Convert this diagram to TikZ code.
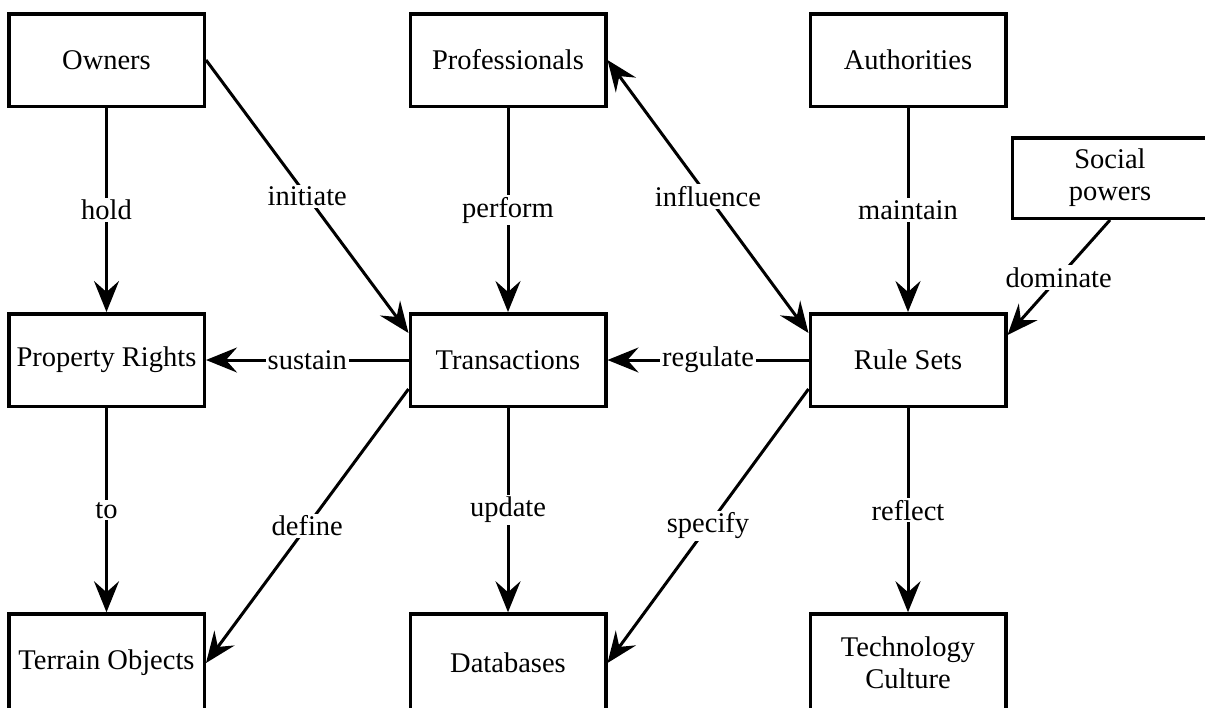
\documentclass[tikz,border=0pt]{standalone}
\usepackage{fontspec}
\setmainfont{Liberation Serif}
\usetikzlibrary{arrows.meta}
\begin{document}
\begin{tikzpicture}[x=1pt,y=-1pt,
  box/.style={draw, line width=3.5pt, minimum width=195.5pt, minimum height=92.5pt,
    inner sep=0pt, align=center, font=\fontsize{28.5}{32}\selectfont},
  tipa/.tip={Stealth[length=31pt,width=25pt,inset=11pt]},
  conn/.style={line width=3pt, -tipa},
  both/.style={line width=3pt, tipa-tipa},
  lab/.style={fill=white, inner sep=2pt, font=\fontsize{28.5}{32}\selectfont}]
\useasboundingbox (0,0) rectangle (1205,707);
\clip (0,0) rectangle (1205,707);
% nodes
\node[box] (own) at (106.5,60) {Owners};
\node[box] (prof) at (508,60) {Professionals};
\node[box] (auth) at (908,60) {Authorities};
\node[box, minimum height=80.5pt] (soc) at (1110,178) {Social\\powers};
\node[box] (pr) at (106.5,360) {Property Rights};
\node[box] (tr) at (508,360) {Transactions};
\node[box] (rs) at (908,360) {Rule Sets};
\node[box, minimum height=98pt] (ter) at (106.5,663) {Terrain Objects};
\node[box, minimum height=98pt] (db) at (508,663) {Databases};
\node[box, minimum height=98pt] (tc) at (908,663) {Technology\\Culture};
% connectors
\draw[conn] (own) -- node[lab] {hold} (pr);
\draw[conn] (own.east) -- node[lab] {initiate} ([yshift=27pt]tr.west);
\draw[conn] (prof) -- node[lab] {perform} (tr);
\draw[both] (prof.east) -- node[lab] {influence} ([yshift=27pt]rs.west);
\draw[conn] (auth) -- node[lab] {maintain} (rs);
\draw[conn] (soc.south) -- node[lab] {dominate} ([yshift=25pt]rs.east);
\draw[conn] (tr.west) -- node[lab] {sustain} (pr.east);
\draw[conn] (rs.west) -- node[lab] {regulate} (tr.east);
\draw[conn] (pr) -- node[lab] {to} (ter);
\draw[conn] ([yshift=-29pt]tr.west) -- node[lab] {define} (ter.east);
\draw[conn] (tr) -- node[lab] {update} (db);
\draw[conn] ([yshift=-29pt]rs.west) -- node[lab] {specify} (db.east);
\draw[conn] (rs) -- node[lab] {reflect} (tc);
\end{tikzpicture}
\end{document}
